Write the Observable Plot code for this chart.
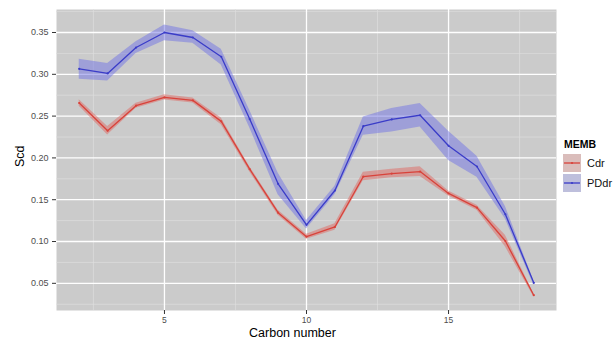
<!DOCTYPE html>
<html>
<head>
<meta charset="utf-8">
<script src="https://cdn.jsdelivr.net/npm/d3@7"></script>
<script src="https://cdn.jsdelivr.net/npm/@observablehq/plot@0.6"></script>
<style>
  html, body { margin: 0; padding: 0; background: #ffffff; }
  #wrap { position: relative; width: 613px; height: 341px; font-family: "Liberation Sans", Arial, Helvetica, sans-serif; }
  #legend { position: absolute; left: 563px; top: 138px; font-size: 11px; color: #000; }
  #legend .title { font-weight: bold; font-size: 10.5px; margin-bottom: 3px; margin-left: 1px; }
  #legend .row { display: flex; align-items: center; height: 20px; }
  #legend .row span { margin-left: 6px; color: #111; }
</style>
</head>
<body>
<div id="wrap"></div>
<script>
// ---- data ----
const carbon = [2, 3, 4, 5, 6, 7, 8, 9, 10, 11, 12, 13, 14, 15, 16, 17, 18];
const seriesNames = ["Cdr", "PDdr"];
const cdrMean = [0.2657, 0.2325, 0.2625, 0.2724, 0.2688, 0.2437, 0.1865, 0.1345, 0.1058, 0.1174, 0.1777, 0.1813, 0.1837, 0.1575, 0.1405, 0.1006, 0.0358];
const cdrLo   = [0.2617, 0.2275, 0.2595, 0.2694, 0.2658, 0.2397, 0.1835, 0.1315, 0.1028, 0.1134, 0.1727, 0.1763, 0.1777, 0.1545, 0.1375, 0.0936, 0.0338];
const cdrHi   = [0.2697, 0.2375, 0.2655, 0.2754, 0.2718, 0.2477, 0.1895, 0.1375, 0.1088, 0.1214, 0.1827, 0.1863, 0.1893, 0.1605, 0.1435, 0.1076, 0.0378];
const pddrMean = [0.3065, 0.3010, 0.3320, 0.3500, 0.3440, 0.3210, 0.2465, 0.1690, 0.1200, 0.1610, 0.2380, 0.2460, 0.2510, 0.2145, 0.1897, 0.1326, 0.0506];
const pddrLo   = [0.2940, 0.2920, 0.3250, 0.3400, 0.3370, 0.3110, 0.2360, 0.1560, 0.1150, 0.1560, 0.2270, 0.2310, 0.2370, 0.1970, 0.1770, 0.1270, 0.0480];
const pddrHi   = [0.3180, 0.3130, 0.3390, 0.3590, 0.3520, 0.3300, 0.2570, 0.1820, 0.1250, 0.1660, 0.2490, 0.2590, 0.2650, 0.2320, 0.2020, 0.1420, 0.0530];
const xMajor = [5, 10, 15];
const xMinor = [2.5, 7.5, 12.5, 17.5];
const yMajor = [0.05, 0.10, 0.15, 0.20, 0.25, 0.30, 0.35];
const yMinor = [0.025, 0.075, 0.125, 0.175, 0.225, 0.275, 0.325, 0.375];
const xTitle = "Carbon number";
const yTitle = "Scd";
const legendTitle = "MEMB";

const lineColors = ["#d8423a", "#3a3cc8"];
const ribbonColors = ["#e06a63", "#7173e6"];

const rows = [];
carbon.forEach((c, i) => {
  rows.push({x: c, memb: "Cdr", y: cdrMean[i], lo: cdrLo[i], hi: cdrHi[i]});
});
carbon.forEach((c, i) => {
  rows.push({x: c, memb: "PDdr", y: pddrMean[i], lo: pddrLo[i], hi: pddrHi[i]});
});

const chart = Plot.plot({
  width: 613,
  height: 341,
  marginLeft: 56,
  marginRight: 57,
  marginTop: 9,
  marginBottom: 31,
  style: {fontFamily: "'Liberation Sans', Arial, Helvetica, sans-serif", background: "white"},
  x: {domain: [1.2, 18.8], axis: null},
  y: {domain: [0.0175, 0.3775], axis: null},
  color: {domain: seriesNames, range: lineColors},
  marks: [
    Plot.frame({fill: "#cbcbcb", stroke: null}),
    Plot.gridX(xMinor, {stroke: "#dedede", strokeOpacity: 1, strokeWidth: 0.7}),
    Plot.gridY(yMinor, {stroke: "#dedede", strokeOpacity: 1, strokeWidth: 0.7}),
    Plot.gridX(xMajor, {stroke: "#ffffff", strokeOpacity: 1, strokeWidth: 1.3}),
    Plot.gridY(yMajor, {stroke: "#ffffff", strokeOpacity: 1, strokeWidth: 1.3}),
    Plot.areaY(rows, {x: "x", y1: "lo", y2: "hi", z: "memb",
      fill: d => d.memb === "Cdr" ? ribbonColors[0] : ribbonColors[1], fillOpacity: 0.5}),
    Plot.lineY(rows, {x: "x", y: "y", z: "memb", stroke: "memb", strokeWidth: 1.3}),
    Plot.dot(rows, {x: "x", y: "y", fill: "memb", r: 1.1}),
    Plot.axisX(xMajor, {tickSize: 4, tickPadding: 2, fontSize: 8.5, fill: "#4d4d4d", stroke: "#333", label: null, tickFormat: d => String(d)}),
    Plot.axisY(yMajor, {tickSize: 4, tickPadding: 4, fontSize: 9, fill: "#4d4d4d", stroke: "#333", label: null, tickFormat: d3.format(".2f")}),
    Plot.text([xTitle], {frameAnchor: "bottom", dx: -14, dy: 26, fontSize: 12.5, fill: "#000", text: d => d}),
    Plot.text([yTitle], {frameAnchor: "left", dx: -37, dy: 7, rotate: -90, fontSize: 12.5, fill: "#000", text: d => d})
  ]
});

const wrap = document.getElementById("wrap");
wrap.appendChild(chart);

// legend
const legend = document.createElement("div");
legend.id = "legend";
let html = `<div class="title">${legendTitle}</div>`;
seriesNames.forEach((name, i) => {
  html += `<div class="row"><svg width="18" height="18">
    <rect x="0" y="0" width="18" height="18" fill="#d9d9d9"></rect>
    <rect x="0" y="0" width="18" height="18" fill="${ribbonColors[i]}" fill-opacity="0.25"></rect>
    <line x1="1" x2="17" y1="9" y2="9" stroke="${lineColors[i]}" stroke-width="1.3"></line>
    <circle cx="9" cy="9" r="1.1" fill="${lineColors[i]}"></circle>
  </svg><span>${name}</span></div>`;
});
legend.innerHTML = html;
wrap.appendChild(legend);
</script>
</body>
</html>
